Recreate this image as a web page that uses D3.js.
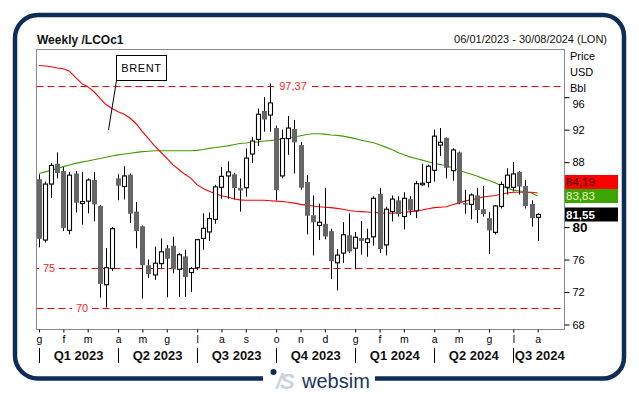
<!DOCTYPE html>
<html>
<head>
<meta charset="utf-8">
<script src="https://cdn.jsdelivr.net/npm/d3@7"></script>
<style>
  body { margin: 0; background: #fff; }
  svg { display: block; font-family: "Liberation Sans", Arial, sans-serif; }
</style>
</head>
<body>
<script>
// weekly candles, first one is the week of 06/01/2023
var opens = [85.9, 78.4, 85.3, 87.8, 86.9, 79.6, 86.6, 82.9, 83.2, 85.8,
  82.6, 72.9, 74.9, 86.0, 85.0, 86.45, 81.9, 80.1, 75.3, 74.1,
  75.5, 77.4, 77.7, 74.8, 76.4, 74.4, 75.0, 78.6, 79.4, 80.95,
  84.9, 86.3, 86.5, 84.8, 84.85, 89.0, 90.8, 94.3, 93.8, 92.2,
  86.3, 90.9, 92.1, 90.1, 85.55, 81.45, 80.2, 80.4, 79.5, 75.6,
  76.8, 79.0, 77.4, 78.65, 78.1, 78.8, 84.1, 77.8, 81.9, 83.3,
  81.3, 83.45, 82.0, 85.3, 85.5, 87.0, 90.1, 91.0, 86.95, 89.2,
  82.95, 82.8, 83.9, 82.2, 81.1, 79.35, 82.55, 84.9, 84.9, 86.8,
  85.05, 82.85, 81.2];
var highs = [86.5, 85.6, 87.9, 89.2, 87.4, 86.8, 86.9, 86.8, 86.0, 86.8,
  82.7, 77.4, 80.0, 86.5, 87.5, 86.6, 83.1, 80.2, 76.0, 77.6,
  78.6, 77.8, 78.8, 76.8, 77.2, 75.1, 78.5, 81.7, 81.8, 85.2,
  87.4, 88.1, 86.7, 86.0, 89.7, 91.1, 94.6, 96.0, 97.69, 92.5,
  92.0, 93.7, 93.2, 90.5, 86.4, 83.9, 82.9, 84.8, 79.8, 77.3,
  80.6, 81.7, 79.4, 80.75, 79.8, 83.8, 84.8, 82.5, 83.9, 83.8,
  84.3, 83.8, 85.7, 87.8, 87.7, 92.0, 92.2, 91.05, 89.7, 89.3,
  84.6, 84.15, 84.8, 85.05, 81.85, 82.7, 85.6, 87.25, 88.0, 86.9,
  85.8, 83.3, 81.7];
var lows = [77.5, 78.1, 83.6, 86.0, 79.5, 79.1, 81.8, 80.3, 81.7, 80.7,
  71.3, 70.1, 74.6, 83.3, 83.4, 80.5, 77.4, 71.2, 73.7, 73.5,
  74.8, 71.35, 74.3, 71.4, 71.4, 72.0, 74.7, 77.2, 78.3, 80.4,
  83.5, 83.5, 83.4, 81.9, 83.75, 87.9, 90.0, 91.75, 91.75, 83.3,
  86.0, 88.9, 86.6, 84.6, 79.1, 76.5, 78.4, 78.5, 73.6, 72.2,
  75.6, 76.8, 74.8, 76.6, 76.35, 77.7, 76.8, 76.5, 80.7, 81.3,
  79.7, 81.5, 81.1, 85.05, 84.9, 85.6, 88.75, 86.0, 85.7, 82.8,
  81.65, 80.95, 80.5, 81.3, 76.7, 79.1, 82.3, 84.0, 84.4, 84.0,
  82.3, 80.05, 78.3];
var closes = [78.55, 85.3, 87.6, 86.65, 79.9, 86.4, 83.0, 83.15, 85.8, 82.8,
  73.0, 75.0, 79.8, 85.1, 86.3, 81.65, 79.5, 75.3, 74.2, 75.55,
  76.95, 76.1, 74.8, 76.6, 73.85, 74.9, 78.45, 79.85, 81.05, 84.95,
  86.25, 86.8, 84.8, 84.5, 88.5, 90.6, 93.9, 93.25, 95.3, 84.55,
  90.9, 92.2, 90.45, 84.85, 81.4, 80.6, 80.6, 78.85, 75.8, 76.55,
  79.05, 77.0, 78.75, 78.3, 78.55, 83.55, 77.3, 82.2, 83.45, 81.6,
  83.55, 82.05, 85.35, 85.4, 87.5, 91.2, 90.45, 87.3, 89.5, 82.95,
  82.8, 83.95, 82.1, 81.6, 79.6, 82.6, 85.25, 86.4, 86.55, 85.0,
  82.6, 81.1, 81.55];

// moving averages, one value per week
var redAvg = [99.9, 99.85, 99.75, 99.6, 99.5, 99.2, 98.45, 97.7, 97.3, 96.7,
  95.9, 95.1, 94.6, 94.2, 93.9, 93.4, 92.7, 91.75, 90.9, 90.0,
  89.25, 88.5, 87.7, 87.1, 86.5, 86.0, 85.2, 84.75, 84.4, 84.1,
  83.85, 83.7, 83.5, 83.35, 83.3, 83.3, 83.3, 83.3, 83.25, 83.2,
  83.15, 83.05, 82.95, 82.8, 82.7, 82.6, 82.5, 82.45, 82.4, 82.3,
  82.2, 82.05, 81.95, 81.9, 81.85, 81.8, 81.75, 81.7, 81.7, 81.75,
  81.8, 81.9, 82.0, 82.1, 82.25, 82.4, 82.45, 82.5, 82.75, 82.95,
  83.2, 83.35, 83.5, 83.7, 83.8, 83.9, 84.05, 84.2, 84.3, 84.3,
  84.3, 84.3, 84.19];
var greenAvg = [86.6, 86.8, 87.0, 87.2, 87.45, 87.65, 87.85, 88.0, 88.15, 88.3,
  88.45, 88.6, 88.75, 88.9, 89.0, 89.1, 89.2, 89.3, 89.35, 89.4,
  89.4, 89.4, 89.4, 89.4, 89.4, 89.4, 89.45, 89.55, 89.7, 89.8,
  89.9, 90.0, 90.15, 90.3, 90.35, 90.45, 90.5, 90.6, 90.65, 90.75,
  90.85, 91.0, 91.1, 91.25, 91.4, 91.5, 91.5, 91.45, 91.35, 91.3,
  91.2, 91.05, 90.9, 90.7, 90.55, 90.4, 90.15, 89.85, 89.55, 89.2,
  88.9, 88.65, 88.45, 88.25, 88.05, 87.85, 87.7, 87.55, 87.3, 87.0,
  86.75, 86.55, 86.3, 86.0, 85.75, 85.45, 85.1, 84.8, 84.55, 84.45,
  84.35, 84.2, 83.83];

// axis: 87 weekly slots up to 30/08/2024
var weekCount = 87;
var monthLabels = ["g", "f", "m", "a", "m", "g", "l", "a", "s", "o", "n", "d",
  "g", "f", "m", "a", "m", "g", "l", "a"];
var monthStarts = [0, 4, 8, 13, 17, 21, 26, 30, 34, 39, 43, 47,
  52, 56, 60, 65, 69, 74, 78, 82];
var quarterLabels = ["Q1 2023", "Q2 2023", "Q3 2023", "Q4 2023", "Q1 2024", "Q2 2024", "Q3 2024"];
var quarterStarts = [0, 13, 26, 39, 52, 65, 78];
var priceTicks = [68, 72, 76, 80, 88, 92, 96];
var unitLabels = ["Price", "USD", "Bbl"];

// horizontal levels
var levelValues = [97.37, 75, 70];
var levelLabels = ["97,37", "75", "70"];

// last values shown on the right
var tagValues = [84.19, 83.83, 81.55];
var tagFills = ["#ff0000", "#3ea500", "#000000"];
var tagInk = ["#3a0000", "#eef7c8", "#ffffff"];

function drawChart() {
  var w = 639;
  var h = 394;
  var left = 36.5, right = 564.5, top = 49.5, bottom = 329.5;
  var comma = d3.format(".2f");

  var svg = d3.select("body").append("svg")
    .attr("width", w)
    .attr("height", h);

  // scales
  var x = d3.scaleLinear()
    .domain([-0.5, weekCount - 0.5])
    .range([36, 565]);
  var y = d3.scaleLinear()
    .domain([68, 96])
    .range([324.5, 97.2]);

  // rounded frame, open at the bottom for the logo
  svg.append("path")
    .attr("d", "M263,378.5 H38 A23,23 0 0 1 15,355.5 V38 A23,23 0 0 1 38,15 H603 A21,21 0 0 1 624,36 V357.5 A21,21 0 0 1 603,378.5 H375")
    .attr("fill", "none")
    .attr("stroke", "#0f2c59")
    .attr("stroke-width", 4.5);

  // titles
  svg.append("text")
    .attr("x", 37).attr("y", 44)
    .attr("font-size", "12px").attr("font-weight", "bold")
    .attr("fill", "#111")
    .text("Weekly /LCOc1");
  svg.append("text")
    .attr("x", 607).attr("y", 43)
    .attr("text-anchor", "end")
    .attr("font-size", "11px")
    .attr("fill", "#111")
    .text("06/01/2023 - 30/08/2024 (LON)");

  // plot box
  svg.append("defs").append("clipPath").attr("id", "plotClip")
    .append("rect")
    .attr("x", left).attr("y", top)
    .attr("width", right - left).attr("height", bottom - top);
  svg.append("rect")
    .attr("x", left).attr("y", top)
    .attr("width", right - left).attr("height", bottom - top)
    .attr("fill", "#fff")
    .attr("stroke", "#8a8a96");

  var plot = svg.append("g").attr("clip-path", "url(#plotClip)");

  // dashed levels
  plot.selectAll(".level")
    .data(levelValues)
    .enter()
    .append("line")
    .attr("x1", left).attr("x2", right)
    .attr("y1", d => Math.round(y(d)) + 0.5)
    .attr("y2", d => Math.round(y(d)) + 0.5)
    .attr("stroke", "#ff0000")
    .attr("stroke-dasharray", "7,4");

  var levelLabelX = [293, 49, 82];
  levelValues.forEach(function(v, i) {
    var cy = Math.round(y(v)) + 0.5;
    var tw = levelLabels[i].length * 6 + 4;
    plot.append("rect")
      .attr("x", levelLabelX[i] - tw / 2 - 2).attr("y", cy - 6)
      .attr("width", tw + 4).attr("height", 12)
      .attr("fill", "#fff");
    plot.append("text")
      .attr("x", levelLabelX[i]).attr("y", cy)
      .attr("dy", "0.36em")
      .attr("text-anchor", "middle")
      .attr("font-size", "11px")
      .attr("fill", "#ff2424")
      .text(levelLabels[i]);
  });

  // moving averages
  var avgLine = d3.line()
    .x((d, i) => x(i))
    .y(d => y(d));
  plot.append("path")
    .datum(greenAvg)
    .attr("d", avgLine)
    .attr("fill", "none")
    .attr("stroke", "#3e9e00")
    .attr("stroke-width", 1.1);
  plot.append("path")
    .datum(redAvg)
    .attr("d", avgLine)
    .attr("fill", "none")
    .attr("stroke", "#ff0000")
    .attr("stroke-width", 1.1);

  // candles
  var cx = i => Math.round(x(i)) + 0.5;
  var candles = plot.selectAll(".candle")
    .data(closes)
    .enter()
    .append("g");
  candles.append("line")
    .attr("x1", (d, i) => cx(i)).attr("x2", (d, i) => cx(i))
    .attr("y1", (d, i) => y(highs[i]))
    .attr("y2", (d, i) => y(lows[i]))
    .attr("stroke", "#000");
  candles.append("rect")
    .attr("x", (d, i) => closes[i] >= opens[i] ? cx(i) - 2 : cx(i) - 2.5)
    .attr("width", (d, i) => closes[i] >= opens[i] ? 4 : 5)
    .attr("y", (d, i) => y(Math.max(opens[i], closes[i])))
    .attr("height", (d, i) => Math.max(1.5, y(Math.min(opens[i], closes[i])) - y(Math.max(opens[i], closes[i]))))
    .attr("fill", (d, i) => closes[i] >= opens[i] ? "#fff" : "#666")
    .attr("stroke", (d, i) => closes[i] >= opens[i] ? "#000" : "none")
    .attr("stroke-width", 1.1);

  // BRENT note
  svg.append("line")
    .attr("x1", 116.5).attr("y1", 80.5)
    .attr("x2", 108.5).attr("y2", 130)
    .attr("stroke", "#000");
  svg.append("rect")
    .attr("x", 116.5).attr("y", 55.5)
    .attr("width", 50).attr("height", 25)
    .attr("fill", "#fff")
    .attr("stroke", "#000");
  svg.append("text")
    .attr("x", 141.5).attr("y", 71.5)
    .attr("text-anchor", "middle")
    .attr("font-size", "11px")
    .attr("letter-spacing", "0.6px")
    .attr("fill", "#000")
    .text("BRENT");

  // right axis
  var yAxis = d3.axisRight(y)
    .tickValues(priceTicks)
    .tickSize(5)
    .tickPadding(3)
    .tickFormat(d3.format("d"));
  var ya = svg.append("g")
    .attr("transform", "translate(" + right + ",0)")
    .call(yAxis);
  ya.select(".domain").remove();
  ya.selectAll("text")
    .attr("font-family", "inherit")
    .attr("font-size", "11px")
    .attr("fill", "#000");
  ya.selectAll(".tick").filter(d => d === 96).select("text").attr("dy", "0.95em");
  ya.selectAll(".tick").filter(d => d === 80).select("text")
    .attr("font-size", "13.5px").attr("font-weight", "bold");

  svg.selectAll(".unit")
    .data(unitLabels)
    .enter()
    .append("text")
    .attr("x", 570)
    .attr("y", (d, i) => 60 + i * 16)
    .attr("font-size", "11px")
    .attr("fill", "#000")
    .text(d => d);

  // value tags, pushed up so they do not overlap
  var tagH = 14;
  var order = tagValues.map((v, i) => i).sort((a, b) => tagValues[a] - tagValues[b]);
  var tagTop = [];
  var prevTop = Infinity;
  order.forEach(function(i) {
    var t = Math.min(y(tagValues[i]) - tagH / 2, prevTop - tagH);
    tagTop[i] = t;
    prevTop = t;
  });
  tagValues.forEach(function(v, i) {
    svg.append("rect")
      .attr("x", 565).attr("y", tagTop[i])
      .attr("width", 53).attr("height", tagH)
      .attr("fill", tagFills[i]);
    svg.append("text")
      .attr("x", 566).attr("y", tagTop[i] + tagH / 2)
      .attr("dy", "0.36em")
      .attr("font-size", "11.5px")
      .attr("font-weight", i === 2 ? "bold" : "normal")
      .attr("fill", tagInk[i])
      .text(comma(v).replace(".", ","));
  });

  // bottom axis: months
  var xAxis = d3.axisBottom(x)
    .tickValues(monthStarts)
    .tickSize(3)
    .tickPadding(3)
    .tickFormat((d, i) => monthLabels[i]);
  var xa = svg.append("g")
    .attr("transform", "translate(0," + bottom + ")")
    .call(xAxis);
  xa.select(".domain").remove();
  xa.selectAll("text")
    .attr("font-family", "inherit")
    .attr("font-size", "10.5px")
    .attr("fill", "#000");

  // quarters
  svg.selectAll(".qline")
    .data(quarterStarts)
    .enter()
    .append("line")
    .attr("x1", d => Math.round(x(d)) + 0.5)
    .attr("x2", d => Math.round(x(d)) + 0.5)
    .attr("y1", 348).attr("y2", 363)
    .attr("stroke", "#000");
  svg.selectAll(".qlabel")
    .data(quarterStarts)
    .enter()
    .append("text")
    .attr("x", (d, i) => i < quarterStarts.length - 1 ? (x(d) + x(quarterStarts[i + 1])) / 2 : x(d) + 1.5)
    .attr("y", 360)
    .attr("text-anchor", (d, i) => i < quarterStarts.length - 1 ? "middle" : "start")
    .attr("font-size", "13px")
    .attr("font-weight", "bold")
    .attr("fill", "#111")
    .text((d, i) => quarterLabels[i]);

  // logo
  svg.append("text")
    .attr("x", 276).attr("y", 389)
    .attr("font-size", "22px")
    .attr("font-weight", "bold")
    .attr("font-style", "italic")
    .attr("letter-spacing", "-2px")
    .attr("fill", "#c9d3e0")
    .text("/S");
  svg.append("circle")
    .attr("cx", 273.5).attr("cy", 372)
    .attr("r", 3)
    .attr("fill", "#0f2c59");
  svg.append("text")
    .attr("x", 302).attr("y", 388)
    .attr("font-size", "20px")
    .attr("fill", "#1b3561")
    .text("websim");
}

window.onload = function() {
  drawChart();
};
</script>
</body>
</html>
